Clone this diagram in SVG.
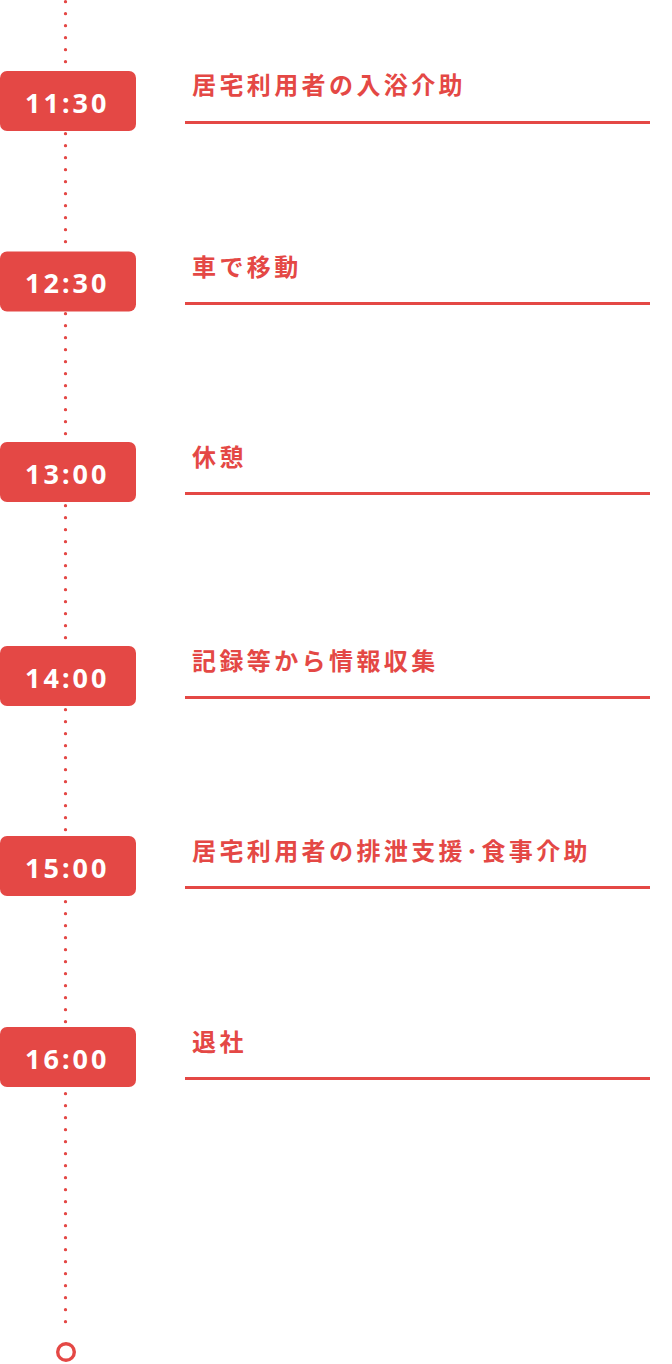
<svg xmlns="http://www.w3.org/2000/svg" width="672" height="1364" viewBox="0 0 672 1364">
<style>
.box{fill:#E44845}
.time{fill:#fff;font-family:"Noto Sans","DejaVu Sans",sans-serif;font-weight:700;font-size:27px;letter-spacing:3px}
.lbl{fill:#E44845;font-family:"Noto Sans CJK JP",sans-serif;font-weight:700;font-size:24px;letter-spacing:3.4px}
.rule{stroke:#E44845;stroke-width:3}
</style>
<rect width="672" height="1364" fill="#fff"/>
<g id="connectors">
<line x1="65.5" y1="1.7" x2="65.5" y2="1332" stroke="#E44845" stroke-width="3.3" stroke-linecap="round" stroke-dasharray="0 12"/>
<circle cx="66" cy="1352" r="8.3" fill="none" stroke="#E44845" stroke-width="3.4"/>
</g>
<g id="n1130">
<rect class="box" x="0" y="71" width="136" height="60" rx="7"/>
<text class="time" x="25" y="112.5">11:30</text>
<text class="lbl" x="192" y="94">居宅利用者の入浴介助</text>
<line class="rule" x1="185" y1="122.5" x2="650" y2="122.5"/>
</g>
<g id="n1230">
<rect class="box" x="0" y="251.5" width="136" height="60" rx="7"/>
<text class="time" x="25" y="293">12:30</text>
<text class="lbl" x="192" y="276">車で移動</text>
<line class="rule" x1="185" y1="303.5" x2="650" y2="303.5"/>
</g>
<g id="n1300">
<rect class="box" x="0" y="442" width="136" height="60" rx="7"/>
<text class="time" x="25" y="483.5">13:00</text>
<text class="lbl" x="192" y="466">休憩</text>
<line class="rule" x1="185" y1="493.5" x2="650" y2="493.5"/>
</g>
<g id="n1400">
<rect class="box" x="0" y="646" width="136" height="60" rx="7"/>
<text class="time" x="25" y="687.5">14:00</text>
<text class="lbl" x="192" y="670">記録等から情報収集</text>
<line class="rule" x1="185" y1="697.5" x2="650" y2="697.5"/>
</g>
<g id="n1500">
<rect class="box" x="0" y="836" width="136" height="60" rx="7"/>
<text class="time" x="25" y="877.5">15:00</text>
<text class="lbl" x="192" y="860">居宅利用者の排泄支援･食事介助</text>
<line class="rule" x1="185" y1="887.5" x2="650" y2="887.5"/>
</g>
<g id="n1600">
<rect class="box" x="0" y="1027" width="136" height="60" rx="7"/>
<text class="time" x="25" y="1068.5">16:00</text>
<text class="lbl" x="192" y="1051">退社</text>
<line class="rule" x1="185" y1="1078.5" x2="650" y2="1078.5"/>
</g>
</svg>
